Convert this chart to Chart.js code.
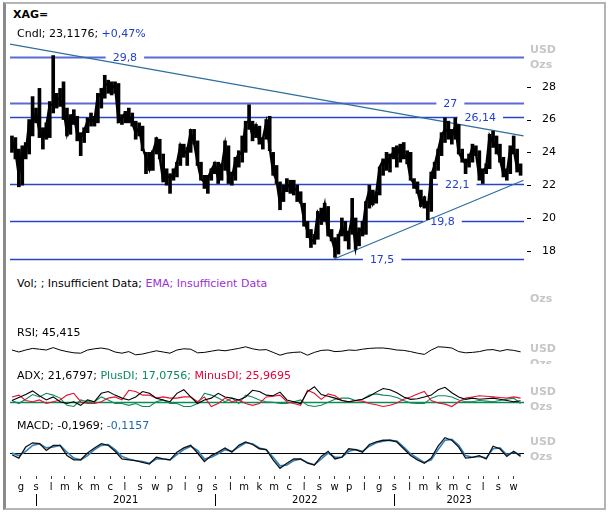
<!DOCTYPE html>
<html><head><meta charset="utf-8">
<script src="https://cdn.jsdelivr.net/npm/chart.js@4/dist/chart.umd.min.js"></script>
<style>
html,body{margin:0;padding:0;background:#fff;}
body{width:610px;height:515px;position:relative;overflow:hidden;font-family:"DejaVu Sans",sans-serif;}
#frame{position:absolute;left:3px;top:2px;width:603px;height:508px;box-sizing:border-box;border:2px solid #b4b4b4;border-left:3px solid #8a8a8a;}
.lbl{position:absolute;left:17px;font-size:11px;line-height:14px;white-space:nowrap;color:#000;}
.unit{position:absolute;left:530px;font-size:11px;font-weight:bold;line-height:14px;color:#c6c6c6;}
.cv{position:absolute;left:10px;}
</style></head><body>
<div id="frame"></div>
<div class="cv" style="top:40px"><canvas id="cPrice" width="590" height="228"></canvas></div>
<div class="cv" style="top:330px"><canvas id="cRsi" width="590" height="40"></canvas></div>
<div class="cv" style="top:380px"><canvas id="cAdx" width="590" height="36"></canvas></div>
<div class="cv" style="top:428px"><canvas id="cMacd" width="590" height="82"></canvas></div>

<div class="lbl" style="left:13px;top:8px;font-weight:bold">XAG=</div>
<div class="lbl" style="top:27px">Cndl; 23,1176; <span style="color:#1a3fcc">+0,47%</span></div>
<div class="lbl" style="top:277px">Vol; ; Insufficient Data; <span style="color:#9b30d9">EMA; Insufficient Data</span></div>
<div class="lbl" style="top:326px">RSI; 45,415</div>
<div class="lbl" style="top:369px">ADX; 21,6797; <span style="color:#0b8a5c">PlusDI; 17,0756;</span> <span style="color:#e4003a">MinusDI; 25,9695</span></div>
<div class="lbl" style="top:419px">MACD; -0,1969; <span style="color:#1a6aaa">-0,1157</span></div>

<div class="unit" style="top:43px">USD</div>
<div class="unit" style="top:58px">Ozs</div>
<div class="unit" style="top:292px">Ozs</div>
<div class="unit" style="top:342px">USD</div>
<div style="position:absolute;left:0;top:340px;width:610px;height:24px;overflow:hidden"><div class="unit" style="top:17px">Ozs</div></div>
<div class="unit" style="top:385px">USD</div>
<div class="unit" style="top:400px">Ozs</div>
<div class="unit" style="top:435px">USD</div>
<div class="unit" style="top:450px">Ozs</div>

<script>
// ---------- DATA ----------
const firstWeek = '2020-11-13';           // date of closes[0]; one value per week
const closes = [24.7,24.1,22.6,24.2,23.9,25.8,25.8,26.4,25.3,24.8,
25.6,26.9,26.9,27.3,27.2,26.7,25.2,26.2,26.3,25.1,
24.9,25.3,25.9,26.0,25.9,27.5,27.4,28.1,28.2,27.9,
28.1,25.9,26.1,26.4,26.2,25.8,25.2,25.5,24.3,23.7,
23.0,24.0,24.7,23.7,22.3,22.5,22.5,22.6,23.3,24.4,
23.9,24.1,25.2,24.6,23.4,22.4,22.2,22.4,22.9,23.3,
22.4,23.0,24.4,22.4,22.4,23.5,23.9,24.0,25.8,25.9,
25.0,25.6,24.7,24.8,25.8,24.3,22.8,22.3,20.9,21.7,
22.0,21.9,21.8,21.7,21.1,19.9,19.2,18.6,18.7,20.3,
19.9,20.8,19.0,18.8,18.0,18.8,19.5,18.9,19.0,20.1,
18.2,19.3,19.2,20.9,21.7,20.9,21.5,23.1,23.5,23.2,
23.7,24.0,23.9,24.3,23.9,23.6,22.4,22.1,21.7,20.8,
21.2,20.5,22.6,23.2,24.1,25.0,25.4,25.2,25.0,25.6,
24.0,23.6,23.3,23.6,24.3,24.0,22.5,22.8,23.1,25.0,
24.6,24.3,23.6,22.7,22.7,24.2,24.2,23.0,23.1];
const lows = [24.0,23.6,21.9,22.0,23.6,23.9,25.0,25.8,24.9,24.2,
24.8,24.9,26.4,26.7,26.8,26.0,25.0,25.1,25.7,24.7,
23.8,24.6,25.2,25.6,25.6,25.8,26.7,27.3,27.6,27.5,
27.6,25.8,25.7,25.8,25.8,25.6,24.8,25.0,24.1,22.7,
22.9,22.9,23.9,23.6,22.2,22.0,21.5,22.3,22.5,23.2,
23.7,23.2,24.0,24.5,23.2,22.3,21.8,21.5,22.3,22.7,
22.1,22.3,22.9,22.1,22.0,22.3,23.1,23.4,24.0,25.4,
24.7,24.9,24.5,24.2,24.8,24.1,22.6,22.1,20.5,21.0,
21.6,21.5,21.4,21.0,20.9,19.5,18.8,18.2,18.4,18.7,
19.6,19.8,18.9,18.6,17.6,17.8,18.9,18.6,18.1,19.0,
18.1,18.3,18.9,19.0,20.6,20.8,20.9,21.4,22.6,22.9,
22.8,23.6,23.1,23.4,23.6,23.3,22.3,21.8,21.5,20.7,
20.6,19.9,20.4,22.4,22.9,23.8,24.6,24.8,24.5,24.8,
23.9,23.4,22.7,23.1,23.4,23.8,22.3,22.1,22.7,23.0,
24.3,23.9,23.4,22.5,22.3,22.7,23.9,22.8,22.6];
const highs = [25.0,24.9,24.2,24.4,24.6,26.0,27.4,26.7,27.9,25.5,
25.8,27.1,29.9,27.6,27.9,28.3,26.7,26.3,26.6,26.2,
25.2,25.5,26.1,26.4,26.2,27.6,27.9,28.7,28.4,28.3,
28.3,28.2,26.3,26.5,26.7,26.4,25.9,25.8,25.6,24.0,
24.0,24.1,24.9,24.8,23.9,23.0,22.7,23.0,23.4,24.5,
24.5,24.3,25.4,25.4,24.7,23.4,22.6,22.6,23.0,23.4,
23.4,23.3,24.7,24.4,22.8,23.7,24.1,25.0,25.9,26.9,
25.9,25.7,25.6,24.9,26.0,26.2,24.0,23.2,22.2,22.0,
22.4,22.3,22.3,22.0,21.6,20.9,19.8,19.3,19.0,20.4,
20.6,20.9,20.7,19.3,18.8,19.0,20.0,19.8,19.2,21.2,
20.0,19.4,19.8,21.0,22.0,21.7,21.6,23.1,23.6,24.0,
23.9,24.3,24.4,24.5,24.6,24.1,24.0,22.4,22.2,21.7,
21.3,21.0,22.8,23.4,24.2,25.2,26.1,25.9,25.4,26.1,
25.7,24.2,23.6,23.9,24.5,24.4,24.1,23.0,23.3,25.1,
25.3,25.0,24.5,23.7,23.0,24.4,25.0,24.2,23.3];

const levelValues = [29.8, 27, 26.14, 22.1, 19.8, 17.5];
const levelLabels = ['29,8','27','26,14','22,1','19,8','17,5'];
const levelLabelDates = ['2021-07-01','2023-04-25','2023-06-25','2023-05-09','2023-04-09','2022-12-07'];

const trendDownDates = ['2020-11-09','2023-09-21'];
const trendDownValues = [30.6, 25.0];
const trendUpDates = ['2022-08-31','2023-09-21'];
const trendUpValues = [17.5, 22.3];

const priceTicks = [18,20,22,24,26,28];

// indicators: one value every 2 weeks from firstWeek
const indicatorStep = 2;
const rsi = [50,45,50,54,52,50,56,50,46,43,42,50,53,55,52,45,42,46,38,40,
44,48,45,42,50,53,52,43,44,47,50,48,51,54,58,53,50,51,44,37,
42,44,45,37,44,49,50,46,47,50,49,52,54,55,55,53,50,49,46,42,
39,50,58,57,55,46,43,44,46,50,51,47,51,49,45.4];
const adx = [22,27,32,38,30,23,28,20,17,20,14,23,20,34,37,31,26,23,28,37,
34,26,23,20,34,40,28,17,23,26,34,28,26,23,28,39,37,31,30,36,
23,20,17,37,45,32,29,26,22,20,22,24,29,36,42,40,35,28,24,25,
28,31,40,44,35,28,24,26,24,25,26,24,22,20,21.7];
const plusDI = [22,17,24,32,28,34,31,26,14,12,23,20,20,28,23,17,17,14,17,12,
12,20,23,17,17,12,12,17,34,31,26,20,26,17,31,28,23,20,19,17,
17,20,23,14,12,14,19,24,26,26,22,24,31,33,31,30,27,22,18,17,
17,26,30,30,28,23,20,20,22,21,20,22,24,26,17.1];
const minusDI = [28,31,22,20,23,17,20,23,31,34,20,17,17,20,26,28,23,39,37,31,
31,26,28,26,26,28,28,20,28,12,17,26,20,23,17,14,17,28,29,31,
20,17,14,39,34,24,33,30,22,20,22,21,17,15,12,14,18,24,28,33,
37,22,18,16,12,20,26,28,30,29,28,27,26,28,26];
const adxLevel = [20];
const macd = [-0.1,-0.3,0.35,0.6,0.55,0.15,0.45,0.45,-0.15,-0.4,-0.4,0,0.3,0.55,0.45,0.1,-0.35,-0.4,-0.45,-0.55,
-0.65,-0.25,-0.35,-0.4,0.05,0.3,0.45,0,-0.5,-0.15,0.05,0.3,0.05,0.45,0.65,0.5,0.25,0.2,-0.4,-0.9,
-0.6,-0.35,-0.35,-0.6,-0.7,-0.2,0.1,-0.35,-0.25,0.25,0.2,0.05,0.5,0.65,0.75,0.75,0.65,0.25,-0.15,-0.4,
-0.6,-0.3,0.4,0.9,0.75,0.35,-0.3,-0.25,-0.15,-0.35,0.4,0.25,-0.2,0.1,-0.197];
const macdSignal = [0,-0.15,0.1,0.45,0.55,0.3,0.35,0.45,0.05,-0.3,-0.4,-0.15,0.2,0.45,0.5,0.2,-0.2,-0.35,-0.45,-0.5,
-0.6,-0.35,-0.35,-0.4,-0.1,0.2,0.4,0.15,-0.35,-0.25,-0.05,0.2,0.1,0.35,0.6,0.55,0.3,0.2,-0.25,-0.75,
-0.7,-0.45,-0.35,-0.55,-0.7,-0.35,0,-0.25,-0.25,0.1,0.2,0.1,0.4,0.6,0.7,0.75,0.7,0.35,-0.05,-0.3,
-0.55,-0.4,0.2,0.75,0.8,0.45,-0.15,-0.25,-0.2,-0.3,0.25,0.3,-0.1,0.05,-0.116];

const monthLabels = ['g','s','l','m','k','m','c','l','s','w','p','l',
'g','s','l','m','k','m','c','l','s','w','p','l',
'g','s','l','m','k','m','c','l','s','w'];
const firstMonth = [2020, 11];   // year, month index of monthLabels[0]
const years = [2021, 2022, 2023];
const axisStart = '2020-11-09', axisEnd = '2023-09-22';

// ---------- HELPERS ----------
const DAY = 86400000;
const START = Date.parse(firstWeek);
const wk = s => (Date.parse(s) - START) / (7 * DAY);
const wkUTC = (y, m, d) => (Date.UTC(y, m, d) - START) / (7 * DAY);
const X_MIN = wk(axisStart), X_MAX = wk(axisEnd);
const FONT = 'DejaVu Sans';
const AXIS_W = 76;

const xHidden = {type:'linear', min:X_MIN, max:X_MAX, display:false, offset:false, grid:{offset:false}};
const baseOpts = () => ({
  animation:false, responsive:false, devicePixelRatio:1, events:[],
  plugins:{legend:{display:false}, tooltip:{enabled:false}},
  elements:{point:{radius:0}, line:{tension:0}}
});
const series = arr => arr.map((v, i) => ({x: i * indicatorStep, y: v}));
const lineDs = (data, color, w) => ({type:'line', data, borderColor:color, borderWidth:w, pointRadius:0, fill:false});

// ---------- PRICE ----------
const levelStyle = {colors:['#5a6ad4','#5a6ad4','#2a44c8','#2a44c8','#2a44c8','#2a44c8'], widths:[2,2,1.5,1.5,1.5,1.5], text:'#1f3fcc'};
const levelsPlugin = {
  id:'levels',
  beforeDatasetsDraw(chart){
    const {ctx, chartArea:a, scales:{x, y}} = chart;
    ctx.save();
    ctx.font = '11px "' + FONT + '"';
    levelValues.forEach((v, i) => {
      const py = Math.round(y.getPixelForValue(v)) + 0.5;
      ctx.strokeStyle = levelStyle.colors[i]; ctx.lineWidth = levelStyle.widths[i];
      ctx.beginPath(); ctx.moveTo(a.left, py); ctx.lineTo(a.right, py); ctx.stroke();
      const px = x.getPixelForValue(wk(levelLabelDates[i]));
      const w = ctx.measureText(levelLabels[i]).width;
      ctx.fillStyle = '#fff'; ctx.fillRect(px - w/2 - 7, py - 7, w + 14, 14);
      ctx.fillStyle = levelStyle.text; ctx.textAlign = 'center'; ctx.textBaseline = 'middle';
      ctx.fillText(levelLabels[i], px, py + 1);
    });
    ctx.restore();
  },
  afterDraw(chart){
    const {ctx, chartArea:a, scales:{y}} = chart;
    ctx.save(); ctx.strokeStyle = '#000'; ctx.lineWidth = 1;
    priceTicks.forEach(t => {
      const py = Math.round(y.getPixelForValue(t)) + 0.5;
      ctx.beginPath(); ctx.moveTo(a.right + 3, py); ctx.lineTo(a.right + 7, py); ctx.stroke();
    });
    ctx.restore();
  }
};

new Chart(document.getElementById('cPrice'), {
  type:'line',
  data:{datasets:[
    Object.assign(lineDs(trendDownDates.map((d,i)=>({x:wk(d), y:trendDownValues[i]})), '#2c6f9e', 1.2), {order:2}),
    Object.assign(lineDs(trendUpDates.map((d,i)=>({x:wk(d), y:trendUpValues[i]})), '#2c6f9e', 1.2), {order:2}),
    {type:'bar', order:1, data: closes.map((c,i)=>({x:i, y:[lows[i], highs[i]]})), backgroundColor:'#000', barThickness:3},
    Object.assign(lineDs(closes.map((v,i)=>({x:i, y:v})), '#000', 2.5), {order:0})
  ]},
  options:Object.assign(baseOpts(), {
    layout:{padding:0},
    scales:{
      x:xHidden,
      y:{position:'right', min:16.95, max:30.85,
         afterBuildTicks:s => { s.ticks = priceTicks.map(v => ({value:v})); },
         afterFit:s => { s.width = AXIS_W; s.paddingTop = 0; s.paddingBottom = 0; },
         grid:{display:false}, border:{display:false},
         ticks:{padding:10, color:'#000', font:{family:FONT, size:11}}}
    }
  }),
  plugins:[levelsPlugin]
});

// ---------- RSI ----------
new Chart(document.getElementById('cRsi'), {
  type:'line',
  data:{datasets:[lineDs(series(rsi), '#000', 1)]},
  options:Object.assign(baseOpts(), {
    layout:{padding:{right:AXIS_W}},
    scales:{x:xHidden, y:{display:false, min:0, max:100}}
  })
});

// ---------- ADX ----------
const levelLinePlugin = (values, color, width) => ({
  id:'lvl',
  beforeDatasetsDraw(chart){
    const {ctx, chartArea:a, scales:{y}} = chart;
    ctx.save(); ctx.strokeStyle = color; ctx.lineWidth = width;
    values.forEach(v => {
      const py = Math.round(y.getPixelForValue(v)) + 0.5;
      ctx.beginPath(); ctx.moveTo(a.left, py); ctx.lineTo(a.right, py); ctx.stroke();
    });
    ctx.restore();
  }
});
new Chart(document.getElementById('cAdx'), {
  type:'line',
  data:{datasets:[
    lineDs(series(adx), '#000', 1.1),
    lineDs(series(minusDI), '#e8102e', 1.1),
    lineDs(series(plusDI), '#0e8a5a', 1.1)
  ]},
  options:Object.assign(baseOpts(), {
    layout:{padding:{right:AXIS_W}},
    scales:{x:xHidden, y:{display:false, min:-3.8, max:56.2}}
  }),
  plugins:[levelLinePlugin(adxLevel, '#0e8a5a', 1.5)]
});

// ---------- MACD + time axis ----------
const monthValue = i => wkUTC(firstMonth[0], firstMonth[1] + i, 1);
const yearsPlugin = {
  id:'years',
  afterDraw(chart){
    const {ctx, chartArea:a, scales:{x}} = chart;
    ctx.save();
    ctx.strokeStyle = '#000'; ctx.lineWidth = 1;
    ctx.fillStyle = '#000'; ctx.font = '10px "' + FONT + '"';
    ctx.textAlign = 'center'; ctx.textBaseline = 'middle';
    years.forEach(yr => {
      const p0 = x.getPixelForValue(wkUTC(yr, 0, 1));
      const p1 = x.getPixelForValue(wkUTC(yr + 1, 0, 1));
      if (p0 >= a.left && p0 <= a.right) {
        const sx = Math.round(p0) + 0.5;
        ctx.beginPath(); ctx.moveTo(sx, a.bottom + 18); ctx.lineTo(sx, a.bottom + 30); ctx.stroke();
      }
      const s = Math.max(p0, a.left), e = Math.min(p1, a.right);
      if (e - s > 60) ctx.fillText(String(yr), (s + e) / 2, a.bottom + 24);
    });
    ctx.restore();
  }
};
new Chart(document.getElementById('cMacd'), {
  type:'line',
  data:{datasets:[
    lineDs(series(macd), '#111', 1.3),
    lineDs(series(macdSignal), '#2f80bd', 1.6)
  ]},
  options:Object.assign(baseOpts(), {
    layout:{padding:{right:AXIS_W}},
    scales:{
      x:{type:'linear', min:X_MIN, max:X_MAX, offset:false, position:'bottom',
         afterBuildTicks:s => { s.ticks = monthLabels.map((_, i) => ({value:monthValue(i)})); },
         afterFit:s => { s.height = 34; s.paddingLeft = 0; s.paddingRight = 0; },
         grid:{drawOnChartArea:false, drawTicks:true, tickLength:3, color:'#444', tickColor:'#444', offset:false},
         border:{display:false},
         ticks:{autoSkip:false, maxRotation:0, minRotation:0, padding:2, color:'#000',
                font:{family:FONT, size:10}, callback:(v, i) => monthLabels[i]}},
      y:{display:false, min:-1.35, max:1.47}
    }
  }),
  plugins:[levelLinePlugin([0], '#000', 1), yearsPlugin]
});
</script>
</body></html>
